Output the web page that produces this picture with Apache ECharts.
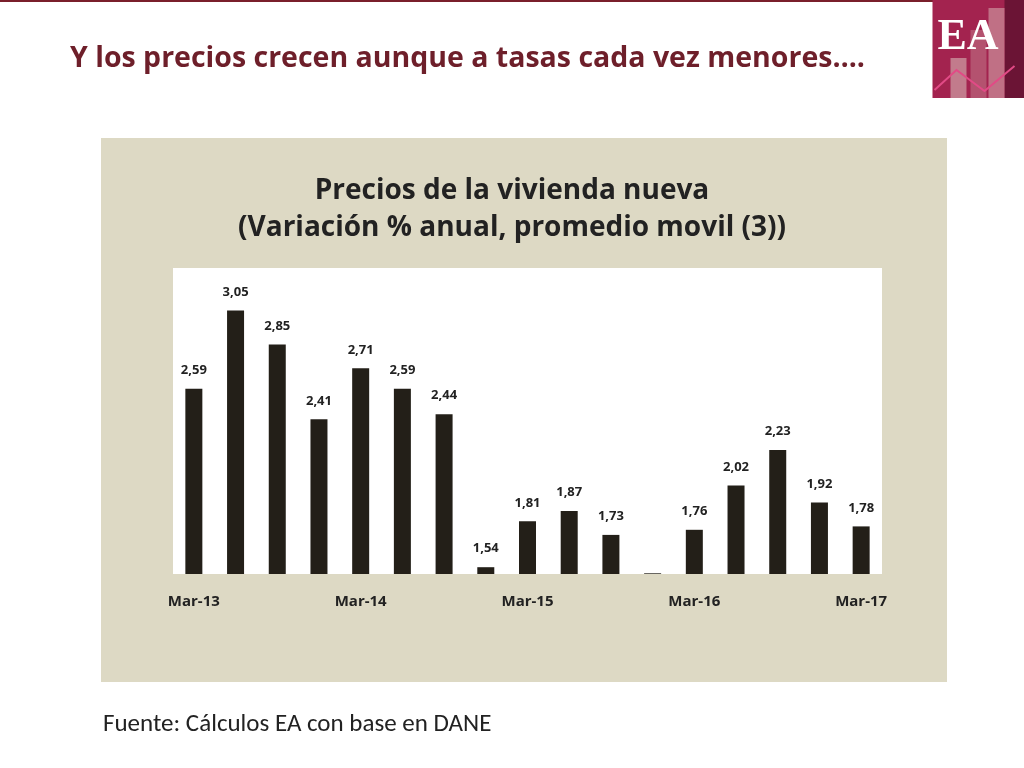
<!DOCTYPE html>
<html><head><meta charset="utf-8">
<script src="https://cdn.jsdelivr.net/npm/echarts@6/dist/echarts.min.js"></script>
<style>html,body{margin:0;padding:0;background:#fff}#c{width:1024px;height:768px}</style>
</head><body><div id="c"></div>
<script>
const categories = ['Mar-13','Jun-13','Sep-13','Dic-13','Mar-14','Jun-14','Sep-14','Dic-14','Mar-15','Jun-15','Sep-15','Dic-15','Mar-16','Jun-16','Sep-16','Dic-16','Mar-17'];
const values = [2.59,3.05,2.85,2.41,2.71,2.59,2.44,1.54,1.81,1.87,1.73,1.504,1.76,2.02,2.23,1.92,1.78];
const shownLabels = ['Mar-13','Mar-14','Mar-15','Mar-16','Mar-17'];
const chart = echarts.init(document.getElementById('c'));
const F = 'Open Sans, Lato, sans-serif';
chart.setOption({
  animation:false,
  graphic:[
    {type:'rect',shape:{x:0,y:0,width:1024,height:2},style:{fill:'#7a1f2b'}},
    {type:'rect',shape:{x:101,y:138,width:846,height:544},style:{fill:'#ddd9c4'},z:-10},
    {type:'rect',shape:{x:173,y:268,width:709,height:306},style:{fill:'#ffffff'},z:-9},
    {type:'text',left:70,top:44,style:{text:'Y los precios crecen aunque a tasas cada vez menores….',font:'bold 28.5px '+F,fill:'#6e1f2a'}},
    {type:'text',left:103,top:712,style:{text:'Fuente: Cálculos EA con base en DANE',font:'25px Calibri, Carlito, '+F,fill:'#222'}},
    {type:'group',left:932,top:0,children:[
      {type:'rect',shape:{x:0,y:0,width:92,height:98},style:{fill:'#a3234f'}},
      {type:'rect',shape:{x:72,y:0,width:20,height:98},style:{fill:'#6b1435'}},
      {type:'rect',shape:{x:56,y:8,width:16,height:90},style:{fill:'#c07085'}},
      {type:'rect',shape:{x:38,y:30,width:16,height:68},style:{fill:'#b4526f'}},
      {type:'rect',shape:{x:18,y:58,width:16,height:40},style:{fill:'#c27b8c'}},
      {type:'text',x:5,y:16,style:{text:'EA',font:'bold 44px Liberation Serif, serif',fill:'#fff'}},
      {type:'polyline',shape:{points:[[2,90],[24,70],[52,91],[82,66]]},style:{stroke:'#e24a86',lineWidth:2,fill:null}}
    ]}
  ],
  title:{text:'Precios de la vivienda nueva\n(Variación % anual, promedio movil (3))',left:'center',top:168,
    textStyle:{fontFamily:F,fontWeight:'bold',fontSize:28,color:'#222',lineHeight:37}},
  grid:{left:173,top:268,width:709,height:306},
  xAxis:{type:'category',data:categories,axisLine:{show:false},axisTick:{show:false},
    axisLabel:{interval:0,margin:20,fontFamily:F,fontWeight:'bold',fontSize:15,color:'#222',
      formatter:(v)=>shownLabels.includes(v)?v:''}},
  yAxis:{type:'value',min:1.5,max:3.3,show:false,splitLine:{show:false}},
  series:[{type:'bar',data:values,barWidth:17,itemStyle:{color:'#231f18'},
    label:{show:true,position:'top',distance:12,fontFamily:F,fontWeight:'bold',fontSize:13,color:'#222',
      formatter:p=>p.dataIndex===11?'':p.value.toFixed(2).replace('.',',')}}]
});
</script></body></html>
